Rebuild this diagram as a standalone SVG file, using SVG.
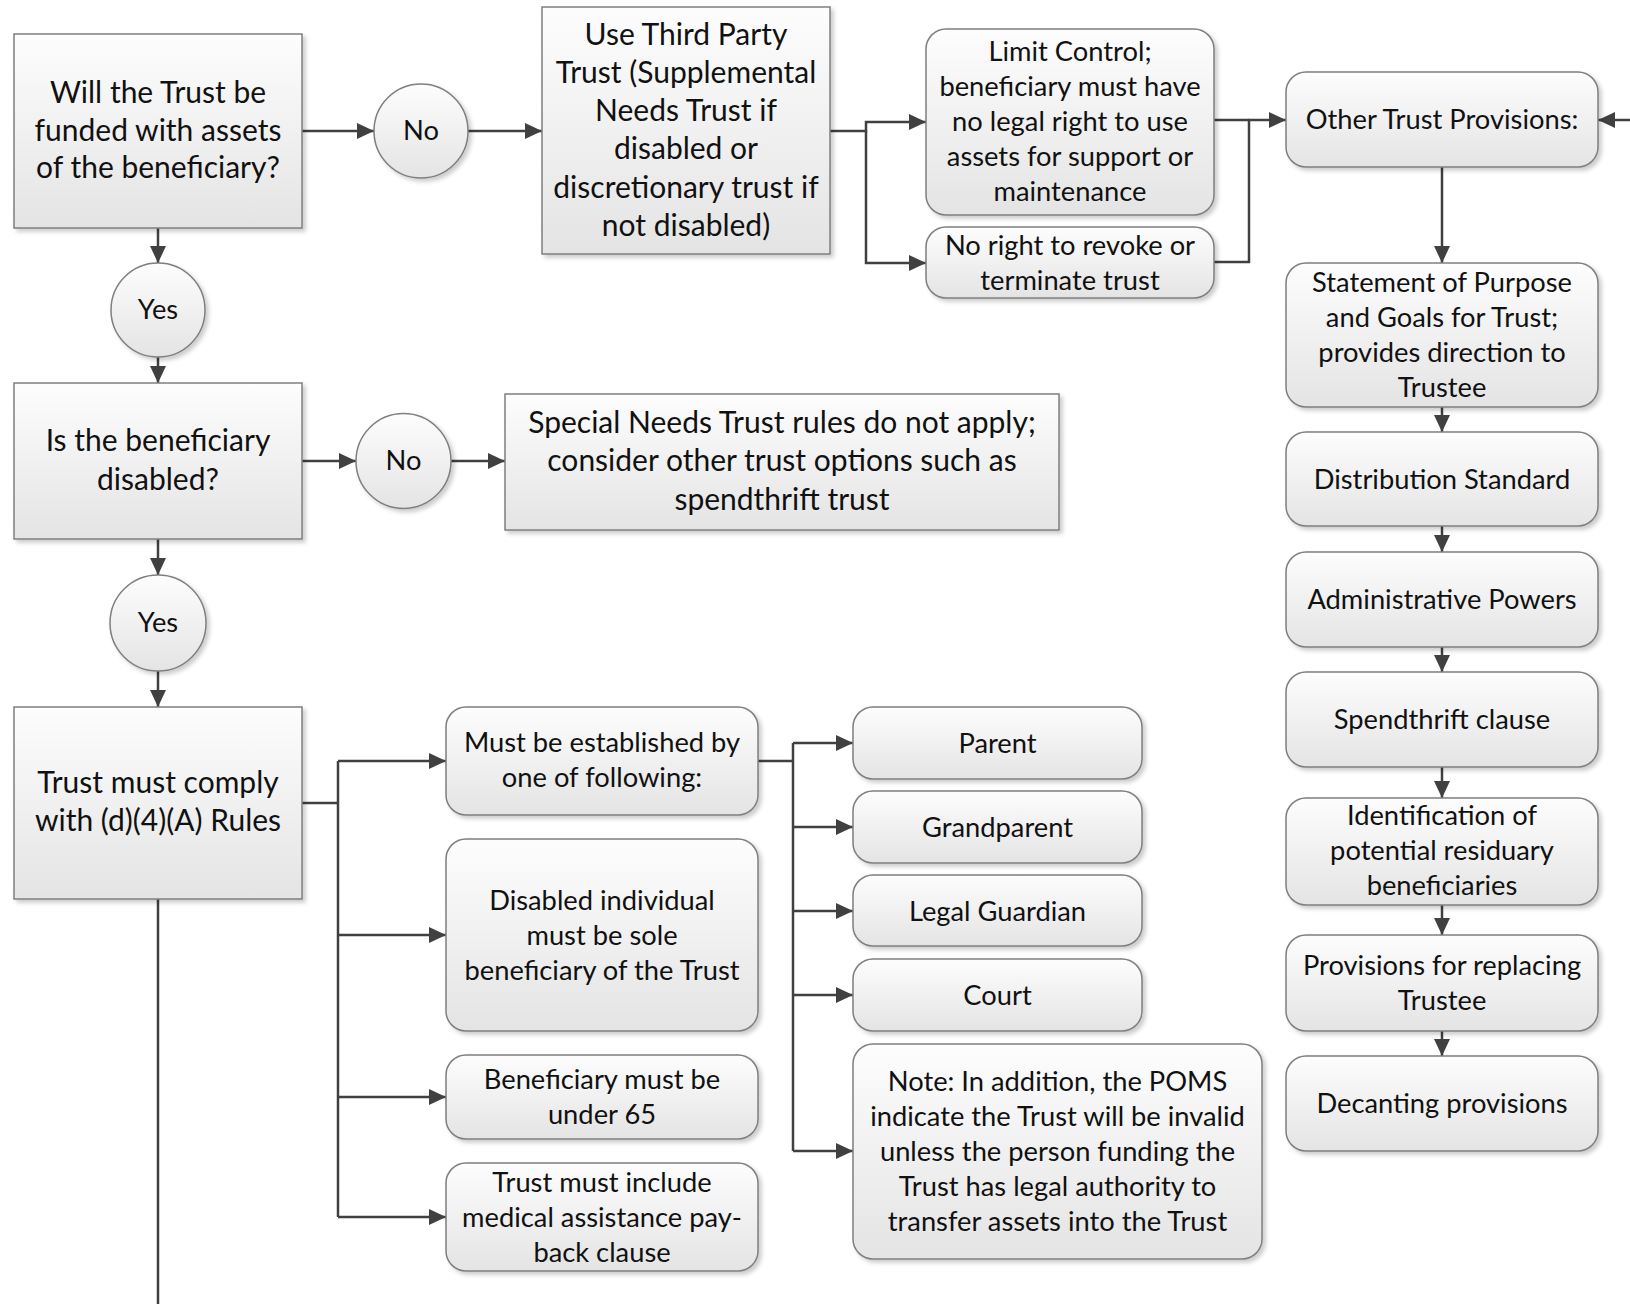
<svg xmlns="http://www.w3.org/2000/svg" width="1630" height="1304" viewBox="0 0 1630 1304">
<defs>
<linearGradient id="g" x1="0" y1="0" x2="0" y2="1">
<stop offset="0" stop-color="#fdfdfd"/>
<stop offset="1" stop-color="#e4e4e4"/>
</linearGradient>
<filter id="sh" x="-10%" y="-10%" width="130%" height="130%">
<feDropShadow dx="3" dy="3" stdDeviation="2" flood-color="#000" flood-opacity="0.2"/>
</filter>
<marker id="ah" viewBox="0 0 17 16" refX="17" refY="8" markerWidth="17" markerHeight="16" markerUnits="userSpaceOnUse" orient="auto">
<path d="M0,0 L17,8 L0,16 z" fill="#404040"/>
</marker>
<style>
.b{fill:url(#g);stroke:#7f7f7f;stroke-width:1.5;filter:url(#sh)}
.t{font-family:Lato,"Liberation Sans",sans-serif;fill:#111;text-anchor:middle}
.L{font-size:30px}
.S{font-size:27.3px}
.c{fill:none;stroke:#404040;stroke-width:2.5}
.a{marker-end:url(#ah)}
</style>
</defs>
<rect width="1630" height="1304" fill="#fff"/>
<g id="connectors">
<path class="c a" d="M302,131 H374"/>
<path class="c a" d="M468,131 H542"/>
<path class="c a" d="M158,228 V263"/>
<path class="c a" d="M158,357 V383"/>
<path class="c a" d="M830,131 H866 V122 H926"/>
<path class="c a" d="M866,131 V263 H926"/>
<path class="c" d="M1214,120 H1249"/>
<path class="c a" d="M1214,262 H1249 V120 H1286"/>
<path class="c a" d="M1630,120 H1598"/>
<path class="c a" d="M1442,167 V263"/>
<path class="c a" d="M1442,407 V432"/>
<path class="c a" d="M1442,526 V552"/>
<path class="c a" d="M1442,647 V672"/>
<path class="c a" d="M1442,767 V798"/>
<path class="c a" d="M1442,905 V935"/>
<path class="c a" d="M1442,1031 V1056"/>
<path class="c a" d="M302,461 H356"/>
<path class="c a" d="M451,461 H505"/>
<path class="c a" d="M158,539 V575"/>
<path class="c a" d="M158,671 V707"/>
<path class="c" d="M158,899 V1304"/>
<path class="c" d="M302,803 H338 M338,761 V1217"/>
<path class="c a" d="M338,761 H446"/>
<path class="c a" d="M338,935 H446"/>
<path class="c a" d="M338,1097 H446"/>
<path class="c a" d="M338,1217 H446"/>
<path class="c" d="M758,761 H793 M793,743 V1151"/>
<path class="c a" d="M793,743 H853"/>
<path class="c a" d="M793,827 H853"/>
<path class="c a" d="M793,911 H853"/>
<path class="c a" d="M793,995 H853"/>
<path class="c a" d="M793,1151 H853"/>
</g>
<g id="n1"><rect class="b" x="14" y="34" width="288" height="194"/>
<text class="t L"><tspan x="158" y="103">Will the Trust be</tspan><tspan x="158" y="141">funded with assets</tspan><tspan x="158" y="178">of the beneficiary?</tspan></text></g>
<g id="no1"><circle class="b" cx="421" cy="131" r="47"/><text class="t S" x="421" y="140">No</text></g>
<g id="n2"><rect class="b" x="542" y="7" width="288" height="247"/>
<text class="t L"><tspan x="686" y="45">Use Third Party</tspan><tspan x="686" y="83">Trust (Supplemental</tspan><tspan x="686" y="121">Needs Trust if</tspan><tspan x="686" y="159">disabled or</tspan><tspan x="686" y="198">discretionary trust if</tspan><tspan x="686" y="236">not disabled)</tspan></text></g>
<g id="limit"><rect class="b" x="926" y="29" width="288" height="186" rx="20"/>
<text class="t S"><tspan x="1070" y="61">Limit Control;</tspan><tspan x="1070" y="96">beneficiary must have</tspan><tspan x="1070" y="131">no legal right to use</tspan><tspan x="1070" y="166">assets for support or</tspan><tspan x="1070" y="201">maintenance</tspan></text></g>
<g id="norevoke"><rect class="b" x="926" y="227" width="288" height="71" rx="20"/>
<text class="t S"><tspan x="1070" y="255">No right to revoke or</tspan><tspan x="1070" y="290">terminate trust</tspan></text></g>
<g id="other"><rect class="b" x="1286" y="72" width="312" height="95" rx="20"/>
<text class="t S" x="1442" y="129">Other Trust Provisions:</text></g>
<g id="statement"><rect class="b" x="1286" y="263" width="312" height="144" rx="20"/>
<text class="t S"><tspan x="1442" y="292">Statement of Purpose</tspan><tspan x="1442" y="327">and Goals for Trust;</tspan><tspan x="1442" y="362">provides direction to</tspan><tspan x="1442" y="397">Trustee</tspan></text></g>
<g id="distribution"><rect class="b" x="1286" y="432" width="312" height="94" rx="20"/>
<text class="t S" x="1442" y="489">Distribution Standard</text></g>
<g id="admin"><rect class="b" x="1286" y="552" width="312" height="95" rx="20"/>
<text class="t S" x="1442" y="609">Administrative Powers</text></g>
<g id="spendthrift"><rect class="b" x="1286" y="672" width="312" height="95" rx="20"/>
<text class="t S" x="1442" y="729">Spendthrift clause</text></g>
<g id="identification"><rect class="b" x="1286" y="798" width="312" height="107" rx="20"/>
<text class="t S"><tspan x="1442" y="825">Identification of</tspan><tspan x="1442" y="860">potential residuary</tspan><tspan x="1442" y="895">beneficiaries</tspan></text></g>
<g id="replacing"><rect class="b" x="1286" y="935" width="312" height="96" rx="20"/>
<text class="t S"><tspan x="1442" y="975">Provisions for replacing</tspan><tspan x="1442" y="1010">Trustee</tspan></text></g>
<g id="decanting"><rect class="b" x="1286" y="1056" width="312" height="95" rx="20"/>
<text class="t S" x="1442" y="1113">Decanting provisions</text></g>
<g id="yes1"><circle class="b" cx="158" cy="310" r="47"/><text class="t S" x="158" y="319">Yes</text></g>
<g id="isdisabled"><rect class="b" x="14" y="383" width="288" height="156"/>
<text class="t L"><tspan x="158" y="451">Is the beneficiary</tspan><tspan x="158" y="490">disabled?</tspan></text></g>
<g id="no2"><circle class="b" cx="403.5" cy="461" r="47.5"/><text class="t S" x="403.5" y="470">No</text></g>
<g id="special"><rect class="b" x="505" y="394" width="554" height="136"/>
<text class="t L"><tspan x="782" y="433">Special Needs Trust rules do not apply;</tspan><tspan x="782" y="471">consider other trust options such as</tspan><tspan x="782" y="510">spendthrift trust</tspan></text></g>
<g id="yes2"><circle class="b" cx="158" cy="623" r="48"/><text class="t S" x="158" y="632">Yes</text></g>
<g id="comply"><rect class="b" x="14" y="707" width="288" height="192"/>
<text class="t L"><tspan x="158" y="793">Trust must comply</tspan><tspan x="158" y="831">with (d)(4)(A) Rules</tspan></text></g>
<g id="must"><rect class="b" x="446" y="707" width="312" height="108" rx="20"/>
<text class="t S"><tspan x="602" y="752">Must be established by</tspan><tspan x="602" y="787">one of following:</tspan></text></g>
<g id="sole"><rect class="b" x="446" y="839" width="312" height="192" rx="20"/>
<text class="t S"><tspan x="602" y="910">Disabled individual</tspan><tspan x="602" y="945">must be sole</tspan><tspan x="602" y="980">beneficiary of the Trust</tspan></text></g>
<g id="under65"><rect class="b" x="446" y="1055" width="312" height="84" rx="20"/>
<text class="t S"><tspan x="602" y="1089">Beneficiary must be</tspan><tspan x="602" y="1124">under 65</tspan></text></g>
<g id="payback"><rect class="b" x="446" y="1163" width="312" height="108" rx="20"/>
<text class="t S"><tspan x="602" y="1192">Trust must include</tspan><tspan x="602" y="1227">medical assistance pay-</tspan><tspan x="602" y="1262">back clause</tspan></text></g>
<g id="parent"><rect class="b" x="853" y="707" width="289" height="72" rx="20"/>
<text class="t S" x="997.5" y="753">Parent</text></g>
<g id="grandparent"><rect class="b" x="853" y="791" width="289" height="72" rx="20"/>
<text class="t S" x="997.5" y="837">Grandparent</text></g>
<g id="guardian"><rect class="b" x="853" y="875" width="289" height="71" rx="20"/>
<text class="t S" x="997.5" y="921">Legal Guardian</text></g>
<g id="court"><rect class="b" x="853" y="959" width="289" height="72" rx="20"/>
<text class="t S" x="997.5" y="1005">Court</text></g>
<g id="note"><rect class="b" x="853" y="1044" width="409" height="215" rx="20"/>
<text class="t S"><tspan x="1057.5" y="1091">Note: In addition, the POMS</tspan><tspan x="1057.5" y="1126">indicate the Trust will be invalid</tspan><tspan x="1057.5" y="1161">unless the person funding the</tspan><tspan x="1057.5" y="1196">Trust has legal authority to</tspan><tspan x="1057.5" y="1231">transfer assets into the Trust</tspan></text></g>
</svg>
